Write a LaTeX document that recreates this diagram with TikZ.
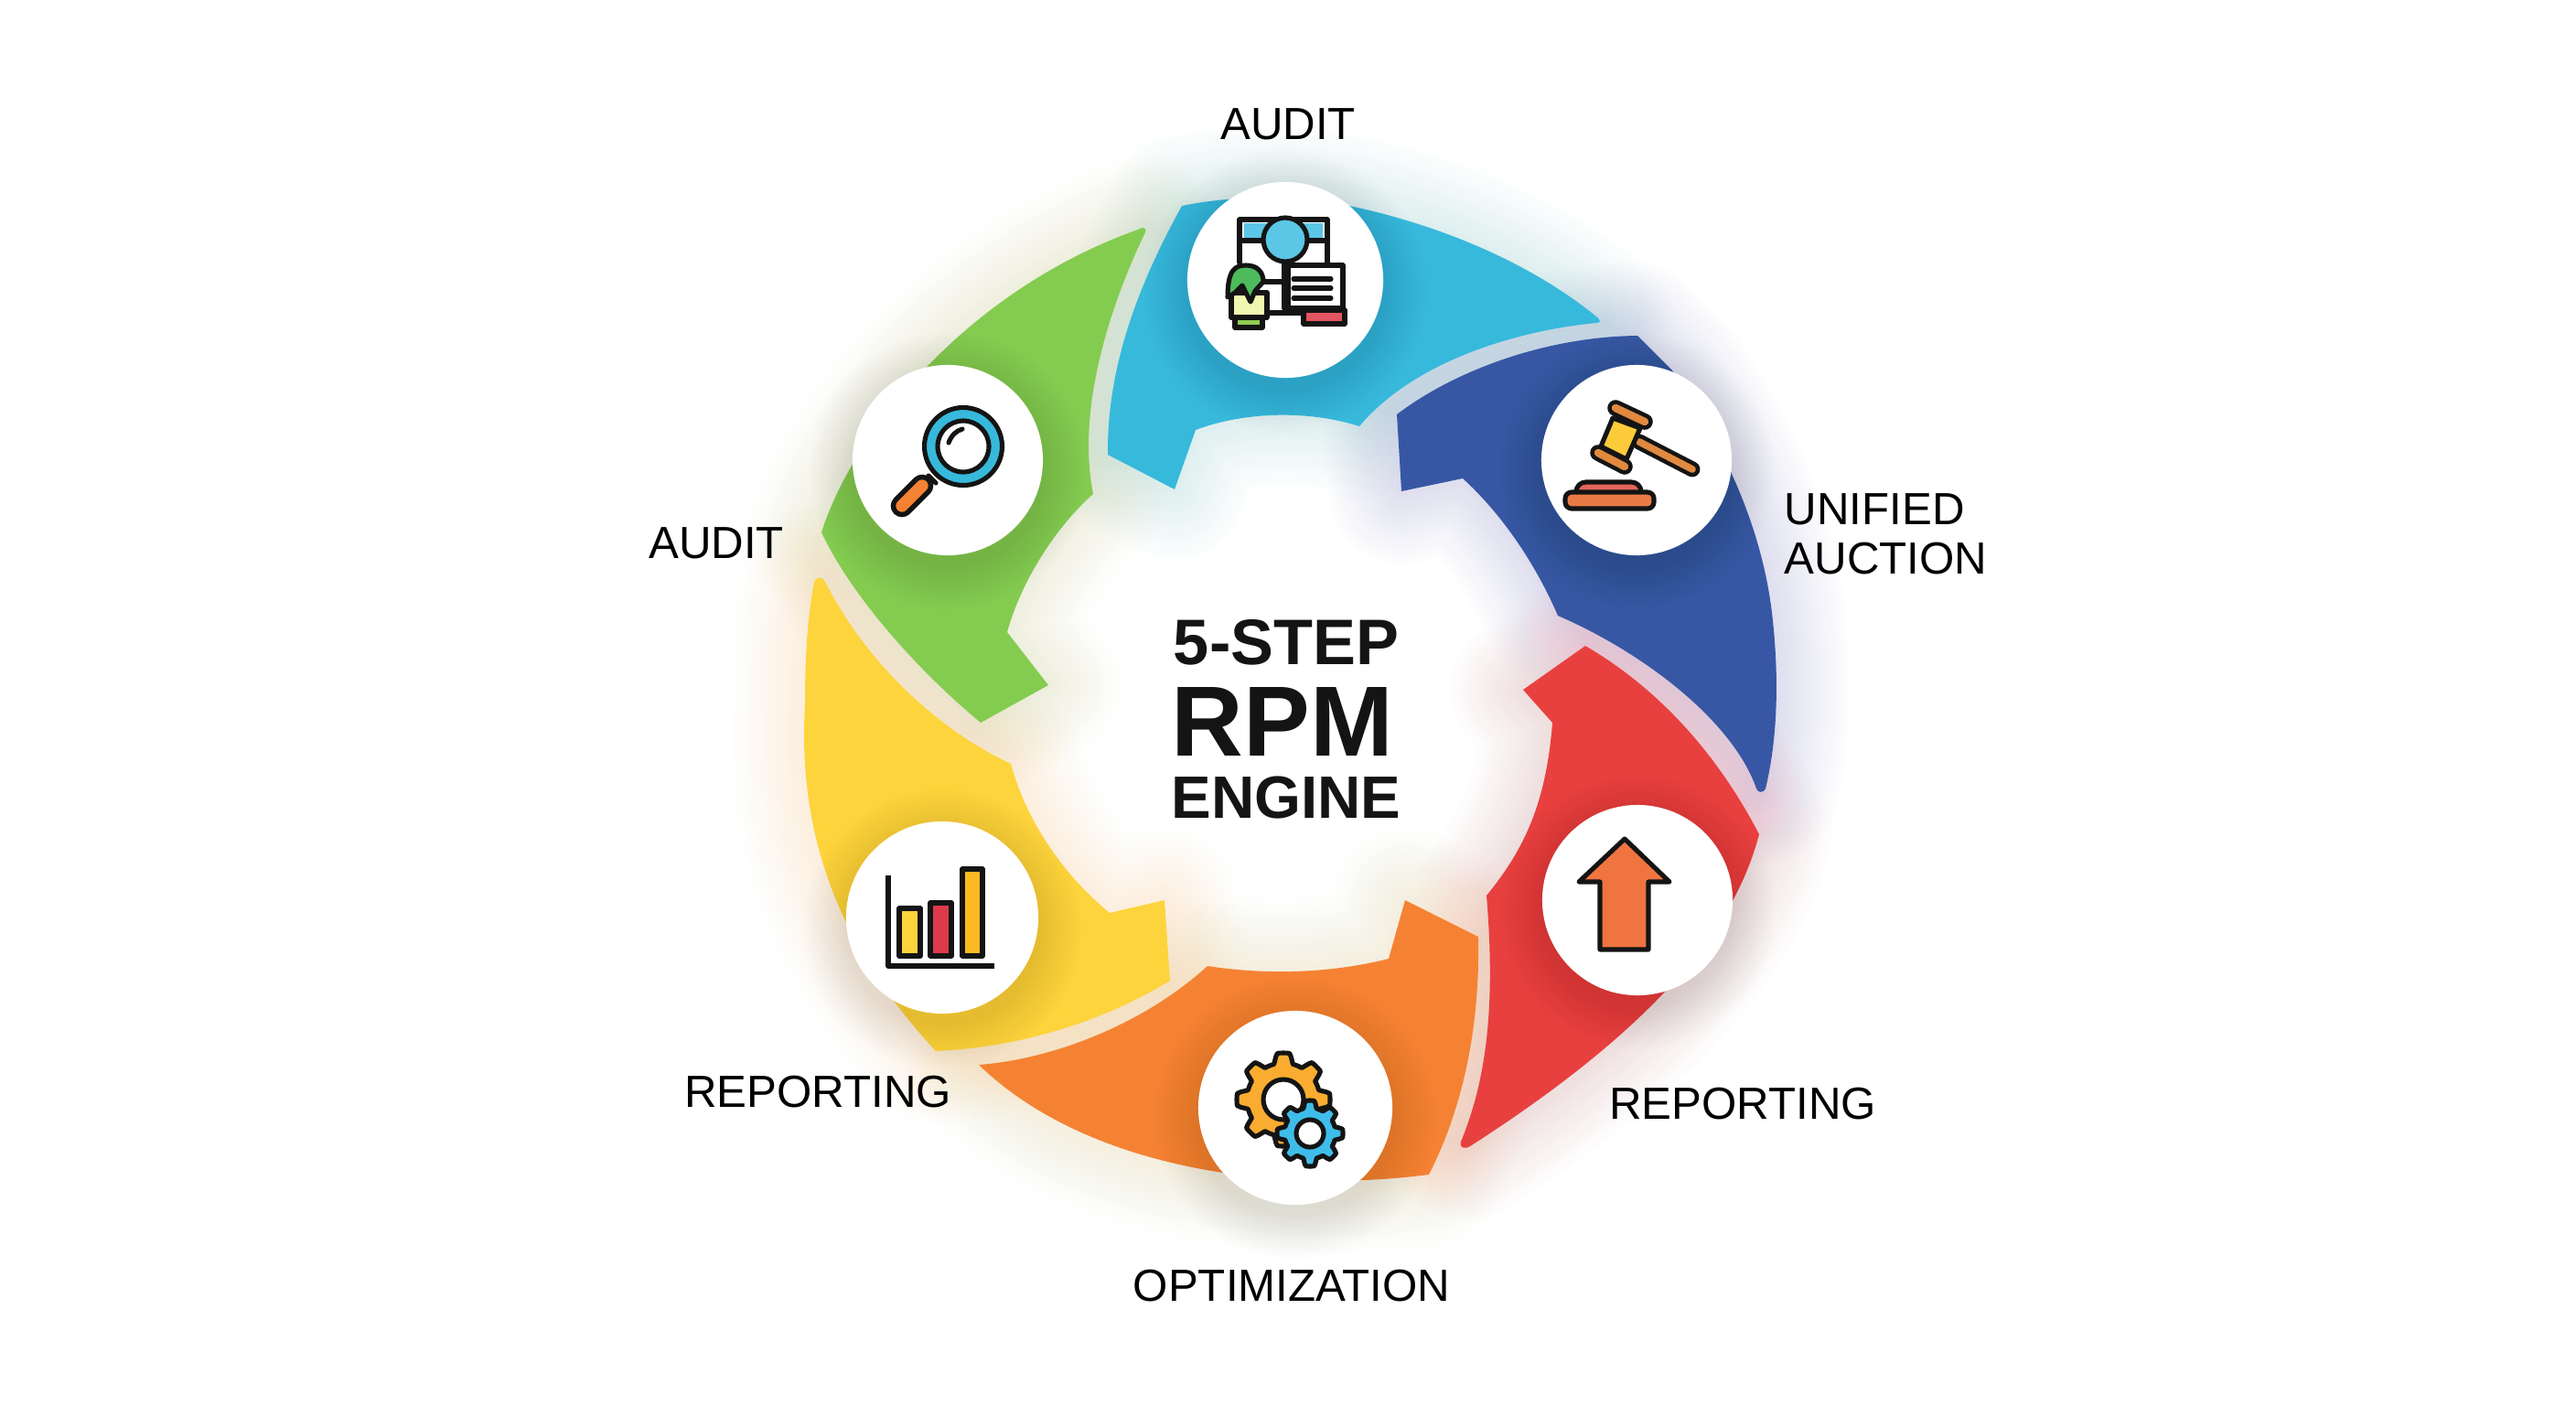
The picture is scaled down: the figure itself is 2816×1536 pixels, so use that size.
\documentclass[tikz,border=0pt]{standalone}
\usepackage{fontspec}
\setmainfont{Liberation Sans}
\definecolor{segcyan}{HTML}{37B9DC}
\definecolor{segblue}{HTML}{3757A4}
\definecolor{segred}{HTML}{E8403F}
\definecolor{segorange}{HTML}{F58233}
\definecolor{segyellow}{HTML}{FDD43B}
\definecolor{seggreen}{HTML}{84CC50}
\definecolor{inkline}{HTML}{141414}
\definecolor{iconsky}{HTML}{5BC6E6}
\definecolor{iconhair}{HTML}{4DBB5C}
\definecolor{iconlime}{HTML}{F0F7B0}
\definecolor{iconleaf}{HTML}{8FCC50}
\definecolor{iconrose}{HTML}{E35560}
\definecolor{iconwood}{HTML}{E0893F}
\definecolor{icongold}{HTML}{FCCB3A}
\definecolor{iconbrick}{HTML}{E4665A}
\definecolor{iconbase}{HTML}{EB7B46}
\definecolor{iconcrim}{HTML}{DC3B4C}
\definecolor{iconamber}{HTML}{FBBA22}
\definecolor{icongear}{HTML}{F9AC30}
\definecolor{iconcog}{HTML}{3FBDEA}
\definecolor{iconarrow}{HTML}{EF7440}
\newcommand{\cyanpath}{(1292,225) .. controls (1345,214) and (1420,212) .. (1475,225) .. controls (1570,245) and (1670,285) .. (1745,346) .. controls (1750,350) and (1750,353) .. (1745,353) .. controls (1670,360) and (1550,390) .. (1486,466) .. controls (1430,448) and (1360,450) .. (1307,470) -- (1284,535) -- (1211,497) .. controls (1210,400) and (1245,310) .. (1292,225) -- cycle}
\newcommand{\bluepath}{(1527,453) .. controls (1590,405) and (1690,368) .. (1790,367) -- (1828,405) .. controls (1880,480) and (1925,570) .. (1937,670) .. controls (1944,730) and (1945,800) .. (1930,862) .. controls (1927,868) and (1921,866) .. (1920,862) .. controls (1895,790) and (1800,715) .. (1703,673) .. controls (1680,620) and (1645,565) .. (1599,523) -- (1532,537) -- cycle}
\newcommand{\redpath}{(1733,706) .. controls (1800,745) and (1870,810) .. (1923,912) .. controls (1900,1000) and (1830,1110) .. (1607,1253) .. controls (1600,1257) and (1595,1254) .. (1597,1248) .. controls (1625,1180) and (1635,1100) .. (1625,979) .. controls (1665,930) and (1690,880) .. (1697,790) -- (1665,754) -- cycle}
\newcommand{\orangepath}{(1070,1164) .. controls (1150,1158) and (1250,1120) .. (1320,1056) .. controls (1385,1066) and (1455,1064) .. (1518,1048) -- (1536,984) -- (1616,1024) .. controls (1618,1120) and (1600,1210) .. (1562,1284) .. controls (1400,1305) and (1190,1280) .. (1070,1164) -- cycle}
\newcommand{\yellowpath}{(890,636) .. controls (893,630) and (899,630) .. (902,636) .. controls (950,730) and (1030,800) .. (1105,835) .. controls (1120,890) and (1155,950) .. (1213,998) -- (1273,984) -- (1279,1072) .. controls (1200,1120) and (1110,1145) .. (1023,1149) .. controls (940,1060) and (870,940) .. (880,772) .. controls (880,720) and (882,680) .. (890,636) -- cycle}
\newcommand{\greenpath}{(1244,251) .. controls (1248,248) and (1254,248) .. (1252,254) .. controls (1220,320) and (1175,440) .. (1195,540) .. controls (1150,580) and (1115,640) .. (1101,691) -- (1146,749) -- (1072,790) .. controls (1000,730) and (930,650) .. (898,582) .. controls (930,480) and (1050,320) .. (1244,251) -- cycle}
\tikzset{
  segglow/.style={line join=round,opacity=.0075},
  iconbg/.style={circle,fill=white,inner sep=0pt,minimum size=#1*0.02cm},
  circshade/.style={fill=black,opacity=.009},
  iconline/.style={draw=inkline,line width=1.45pt,line join=round,line cap=round},
  steplabel/.style={font=\fontsize{14}{15.4}\selectfont,text=black,inner sep=0pt,align=left},
  centerlabel/.style={text=black!92,inner sep=0pt}
}
\newcommand{\gearwheel}[7]{\draw[iconline,fill=#6] plot[domain=0:360,samples=145,variable=\t] ({#1+gearrad(\t,#3,#4,#7)*cos(\t)},{#2+gearrad(\t,#3,#4,#7)*sin(\t)}) -- cycle;
  \draw[iconline,fill=white] (#1,#2) circle (#5);}
\begin{document}
\begin{tikzpicture}[x=0.01cm,y=-0.01cm,declare function={gearrad(\t,\r,\s,\n)=max(\r,min(\s,(\r+\s)/2+(\s-\r)*1.1*cos(\n*\t)));}]
\useasboundingbox (0,0) rectangle (2816,1536);
\fill[white] (0,0) rectangle (2816,1536);
\foreach \segpath/\segcol in {\cyanpath/segcyan,\bluepath/segblue,\redpath/segred,\orangepath/segorange,\yellowpath/segyellow,\greenpath/seggreen}
  \foreach \w in {10,20,...,160}
    \draw[segglow,draw=\segcol,line width=\w*0.01cm] \segpath;
\fill[segcyan] \cyanpath;
\fill[segblue] \bluepath;
\fill[segred] \redpath;
\fill[segorange] \orangepath;
\fill[segyellow] \yellowpath;
\fill[seggreen] \greenpath;
\foreach \cx/\cy/\cr in {1405/306/107,1789/503/104,1036/503/104,1030/1003/105,1416/1211/106,1790/984/104}
  \foreach \g in {3,7,...,47}
    \fill[circshade] (\cx,\cy+12) circle (\cr+\g);
\node[iconbg=107] (audittop) at (1405,306) {};
\node[iconbg=104] (auction) at (1789,503) {};
\node[iconbg=104] (auditleft) at (1036,503) {};
\node[iconbg=105] (reportleft) at (1030,1003) {};
\node[iconbg=106] (optimize) at (1416,1211) {};
\node[iconbg=104] (reportright) at (1790,984) {};
\fill[iconsky] (1360,244) rectangle (1446,262);
\draw[iconline] (1355,287) -- (1355,240) -- (1451,240) -- (1451,287);
\draw[iconline] (1355,263) -- (1451,263);
\draw[iconline,fill=white] (1408,290) rectangle (1468,337);
\draw[iconline] (1414,305) -- (1455,305) (1414,315) -- (1455,315) (1414,326) -- (1455,326);
\draw[iconline] (1404,285) -- (1404,337) (1381,308) -- (1404,308) (1385,342) -- (1425,342);
\draw[iconline,fill=iconsky] (1405,262) circle (24);
\draw[iconline,fill=iconlime] (1346,320) -- (1385,320) -- (1385,347) -- (1346,347) -- cycle;
\draw[iconline,fill=iconleaf] (1350,347) rectangle (1380,358);
\draw[iconline,fill=iconhair] (1342,325) .. controls (1342,295) and (1350,290) .. (1362,290) .. controls (1375,290) and (1381,298) .. (1381,308) -- (1372,318) -- (1367,330) -- (1358,312) -- (1350,320) -- cycle;
\draw[iconline,fill=iconrose] (1425,339) rectangle (1470,354);
\draw[inkline,line width=4.8pt,line cap=round] (1792,483) -- (1850,513);
\draw[iconwood,line width=2.2pt,line cap=round] (1792,483) -- (1850,513);
\draw[iconline,fill=icongold] (1763,457) -- (1793,468) -- (1778,502) -- (1750,488) -- cycle;
\draw[inkline,line width=5pt,line cap=round] (1766,446) -- (1798,461) (1747,495) -- (1776,510);
\draw[iconwood,line width=2.4pt,line cap=round] (1766,446) -- (1798,461) (1747,495) -- (1776,510);
\draw[iconline,fill=iconbrick,rounded corners=3pt] (1723,548) -- (1723,527) -- (1794,527) -- (1794,548);
\draw[iconline,fill=iconbase,rounded corners=2pt] (1711,538) rectangle (1808,556);
\draw[iconline,fill=segcyan] (1053,488) circle (42.5);
\draw[iconline,fill=white] (1053,488) circle (28);
\draw[iconline] (1037,484) .. controls (1040,476) and (1045,471) .. (1052,469);
\draw[iconline] (1015,520) -- (1023,528);
\draw[inkline,line width=7pt,line cap=round] (1008,531) -- (986,553);
\draw[segorange,line width=3.8pt,line cap=round] (1008,531) -- (986,553);
\draw[iconline,fill=segyellow] (983,993) rectangle (1006,1045);
\draw[iconline,fill=iconcrim] (1017,987) rectangle (1040,1045);
\draw[iconline,fill=iconamber] (1052,950) rectangle (1074,1045);
\draw[iconline,line cap=butt] (971,957) -- (971,1056) -- (1087,1056);
\gearwheel{1403}{1202}{40}{51}{22}{icongear}{8}
\gearwheel{1432}{1239}{28}{36}{15}{iconcog}{8}
\draw[iconline,fill=iconarrow] (1776,917) -- (1825,964) -- (1802,964) -- (1802,1038) -- (1749,1038) -- (1749,964) -- (1726,964) -- cycle;
\node[steplabel] (lblaudittop) at (1408,136) {AUDIT};
\node[steplabel,anchor=west] (lblauction) at (1950,584) {UNIFIED\\AUCTION};
\node[steplabel] (lblreportright) at (1905,1207) {REPORTING};
\node[steplabel] (lbloptimize) at (1412,1406) {OPTIMIZATION};
\node[steplabel] (lblreportleft) at (894,1194) {REPORTING};
\node[steplabel] (lblauditleft) at (783,594) {AUDIT};
\node[centerlabel,font=\bfseries\fontsize{20}{22}\selectfont] (fivestep) at (1406,702) {5-STEP};
\node[centerlabel,font=\bfseries\fontsize{31}{33}\selectfont] (rpm) at (1402,789) {RPM};
\node[centerlabel,font=\bfseries\fontsize{18.6}{20}\selectfont] (engine) at (1406,872) {ENGINE};
\end{tikzpicture}
\end{document}
